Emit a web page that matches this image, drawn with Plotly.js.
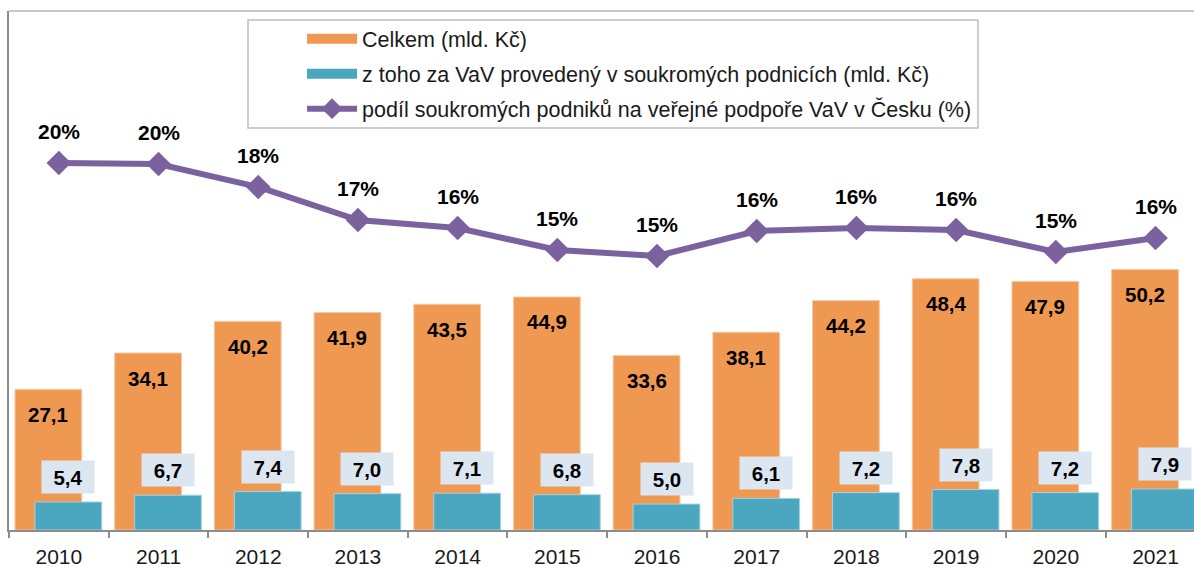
<!DOCTYPE html>
<html>
<head>
<meta charset="utf-8">
<script src="https://cdn.plot.ly/plotly-3.0.1.min.js"></script>
<style>
  html, body { margin: 0; padding: 0; background: #ffffff; }
  #chart { width: 1194px; height: 567px; }
</style>
</head>
<body>
<div id="chart"></div>
<script>
// ---- data ----
const years = ['2010','2011','2012','2013','2014','2015','2016','2017','2018','2019','2020','2021'];
const celkem = [27.1, 34.1, 40.2, 41.9, 43.5, 44.9, 33.6, 38.1, 44.2, 48.4, 47.9, 50.2];
const soukrome = [5.4, 6.7, 7.4, 7.0, 7.1, 6.8, 5.0, 6.1, 7.2, 7.8, 7.2, 7.9];
const podil = [19.6, 19.55, 18.4, 16.75, 16.35, 15.25, 14.95, 16.2, 16.35, 16.25, 15.15, 15.85];

const nameCelkem = 'Celkem (mld. Kč)';
const nameSoukrome = 'z toho za VaV provedený v soukromých podnicích (mld. Kč)';
const namePodil = 'podíl soukromých podniků na veřejné podpoře VaV v Česku (%)';

// ---- styles ----
const cOrange = '#EF9852';
const cTeal = '#4BA6BF';
const cPurple = '#7B629E';
const cLabelBg = '#DCE6F0';
const fontFam = 'Arial, "Liberation Sans", sans-serif';

const barW = 0.67;
const offOrange = -0.44;
const offTeal = -0.24;

const fmt = v => v.toFixed(1).replace('.', ',');

const traces = [
  {
    type: 'bar', name: nameCelkem, x: years, y: celkem,
    width: barW, offset: offOrange,
    marker: { color: cOrange, line: { color: '#F7C9A5', width: 1 } },
    hoverinfo: 'skip', showlegend: false
  },
  {
    type: 'bar', name: nameSoukrome, x: years, y: soukrome,
    width: barW, offset: offTeal,
    marker: { color: cTeal, line: { color: '#A6D3E0', width: 1 } },
    hoverinfo: 'skip', showlegend: false
  },
  {
    type: 'scatter', mode: 'lines+markers', name: namePodil, x: years, y: podil,
    yaxis: 'y2',
    line: { color: cPurple, width: 6 },
    marker: { symbol: 'diamond', size: 19, color: cPurple },
    hoverinfo: 'skip', legendgroup: 'c', legendrank: 3
  },
  // legend swatches (wide rectangles like the original legend)
  {
    type: 'scatter', mode: 'lines', name: nameCelkem, x: [null], y: [null],
    line: { color: cOrange, width: 12 }, hoverinfo: 'skip', legendgroup: 'a', legendrank: 1
  },
  {
    type: 'scatter', mode: 'lines', name: nameSoukrome, x: [null], y: [null],
    line: { color: cTeal, width: 12 }, hoverinfo: 'skip', legendgroup: 'b', legendrank: 2
  }
];

const annotations = [];
celkem.forEach((v, i) => {
  annotations.push({
    x: i + offOrange + barW / 2, y: v, xref: 'x', yref: 'y',
    text: fmt(v), showarrow: false, yanchor: 'middle', xanchor: 'center', yshift: -25,
    font: { family: fontFam, size: 20.5, color: '#000000', weight: 700 }
  });
});
soukrome.forEach((v, i) => {
  annotations.push({
    x: i + offTeal + barW / 2, y: v, xref: 'x', yref: 'y',
    text: fmt(v), showarrow: false, yanchor: 'bottom', xanchor: 'center', yshift: 8,
    width: 52, height: 32, bgcolor: cLabelBg, borderpad: 0, align: 'center',
    font: { family: fontFam, size: 20.5, color: '#000000', weight: 700 }
  });
});
podil.forEach((v, i) => {
  annotations.push({
    x: i, y: v, xref: 'x', yref: 'y2',
    text: Math.round(v) + '%', showarrow: false, yanchor: 'middle', xanchor: 'center', yshift: 32,
    font: { family: fontFam, size: 21, color: '#000000', weight: 700 }
  });
});

const layout = {
  width: 1194, height: 567,
  margin: { l: 9, r: 0, t: 11, b: 37, pad: 0 },
  paper_bgcolor: '#ffffff', plot_bgcolor: '#ffffff',
  barmode: 'overlay',
  showlegend: true,
  legend: {
    x: 0.2473, xanchor: 'left', y: 0.986, yanchor: 'top',
    bgcolor: 'rgba(0,0,0,0)', borderwidth: 0,
    font: { family: fontFam, size: 21.5, color: '#1a1a1a' },
    itemwidth: 50, traceorder: 'grouped', tracegroupgap: 4
  },
  xaxis: {
    type: 'category', categoryorder: 'array', categoryarray: years,
    range: [-0.5, 11.386],
    showline: true, linecolor: '#8C8C8C', linewidth: 2,
    ticks: 'outside', tickson: 'boundaries', ticklen: 6, tickcolor: '#8C8C8C', tickwidth: 2,
    ticklabelstandoff: 7,
    tickfont: { family: fontFam, size: 21, color: '#1a1a1a' },
    showgrid: false, zeroline: false, fixedrange: true
  },
  yaxis: {
    range: [0, 100], showline: true, linecolor: '#8C8C8C', linewidth: 2,
    showticklabels: false, ticks: '', showgrid: false, zeroline: false, fixedrange: true
  },
  yaxis2: {
    overlaying: 'y', range: [1.25, 27.2], visible: false, fixedrange: true
  },
  shapes: [
    { type: 'line', xref: 'paper', yref: 'paper', x0: 0, x1: 1, y0: 1, y1: 1,
      line: { color: '#C8C8C8', width: 2 } },
    { type: 'rect', xref: 'paper', yref: 'paper', x0: 0.2017, x1: 0.8177, y0: 0.7746, y1: 0.9827,
      line: { color: '#BFBFBF', width: 1.5 }, fillcolor: 'rgba(0,0,0,0)' }
  ],
  annotations: annotations
};

Plotly.newPlot('chart', traces, layout, { displayModeBar: false, staticPlot: true });
</script>
</body>
</html>
